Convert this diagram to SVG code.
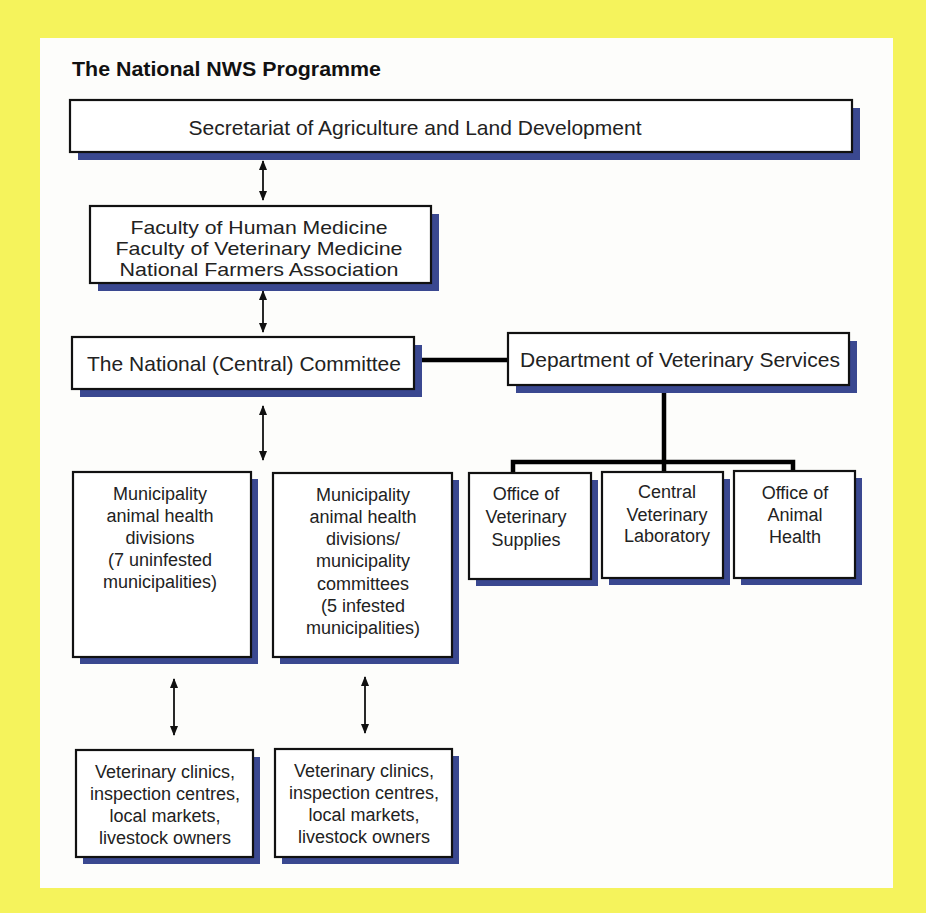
<svg xmlns="http://www.w3.org/2000/svg" width="926" height="913" viewBox="0 0 926 913">
<defs>
<marker id="ah" viewBox="0 0 10 8" refX="9" refY="4" markerWidth="10" markerHeight="8" markerUnits="userSpaceOnUse" orient="auto-start-reverse">
<path d="M0,0 L10,4 L0,8 z" fill="#111"/>
</marker>
<style>
.sh{fill:#3a4890}
.bx{fill:#fff;stroke:#111;stroke-width:2.2}
.t{font-family:"Liberation Sans",Arial,sans-serif;fill:#222;text-anchor:middle}
.big{font-size:21px}
.fac{font-size:18.5px}
.sm{font-size:18px}
.arr{stroke:#111;stroke-width:1.8;fill:none;marker-start:url(#ah);marker-end:url(#ah)}
.thick{stroke:#000;stroke-width:4.5;fill:none}
</style>
</defs>
<rect x="0" y="0" width="926" height="913" fill="#f5f35c"/>
<rect x="40" y="38" width="853" height="850" fill="#fdfdfb"/>
<text x="72" y="76" font-family="Liberation Sans,Arial,sans-serif" font-weight="bold" font-size="20" fill="#111" textLength="309" lengthAdjust="spacingAndGlyphs">The National NWS Programme</text>

<g id="connectors">
<line class="arr" x1="263" y1="161" x2="263" y2="200"/>
<line class="arr" x1="263" y1="291" x2="263" y2="332"/>
<line class="arr" x1="263" y1="406" x2="263" y2="460"/>
<line class="arr" x1="174" y1="679" x2="174" y2="735"/>
<line class="arr" x1="365" y1="677" x2="365" y2="733"/>
<line class="thick" x1="414" y1="360" x2="508" y2="360"/>
<path class="thick" d="M664,385 V462 M513,473 V462 H793 V473 M664,462 V472"/>
</g>

<g id="secretariat">
<rect class="sh" x="78" y="108" width="782" height="52"/>
<rect class="bx" x="70" y="100" width="782" height="52"/>
<text class="t big" x="415" y="135">Secretariat of Agriculture and Land Development</text>
</g>

<g id="faculties">
<rect class="sh" x="98" y="214" width="341" height="77"/>
<rect class="bx" x="90" y="206" width="341" height="77"/>
<text class="t fac" x="259" y="234" textLength="257" lengthAdjust="spacingAndGlyphs">Faculty of Human Medicine</text>
<text class="t fac" x="259" y="255" textLength="287" lengthAdjust="spacingAndGlyphs">Faculty of Veterinary Medicine</text>
<text class="t fac" x="259" y="276" textLength="279" lengthAdjust="spacingAndGlyphs">National Farmers Association</text>
</g>

<g id="national-committee">
<rect class="sh" x="80" y="345" width="342" height="52"/>
<rect class="bx" x="72" y="337" width="342" height="52"/>
<text class="t big" x="244" y="371">The National (Central) Committee</text>
</g>

<g id="dvs">
<rect class="sh" x="516" y="341" width="341" height="52"/>
<rect class="bx" x="508" y="333" width="341" height="52"/>
<text class="t big" x="680" y="367">Department of Veterinary Services</text>
</g>

<g id="office-supplies">
<rect class="sh" x="476" y="480" width="122" height="106"/>
<rect class="bx" x="469" y="473" width="122" height="106"/>
<text class="t sm" x="526" y="500">Office of</text>
<text class="t sm" x="526" y="523">Veterinary</text>
<text class="t sm" x="526" y="546">Supplies</text>
</g>

<g id="central-lab">
<rect class="sh" x="609" y="479" width="121" height="106"/>
<rect class="bx" x="602" y="472" width="121" height="106"/>
<text class="t sm" x="667" y="498">Central</text>
<text class="t sm" x="667" y="521">Veterinary</text>
<text class="t sm" x="667" y="542">Laboratory</text>
</g>

<g id="office-animal-health">
<rect class="sh" x="741" y="478" width="121" height="107"/>
<rect class="bx" x="734" y="471" width="121" height="107"/>
<text class="t sm" x="795" y="499">Office of</text>
<text class="t sm" x="795" y="521">Animal</text>
<text class="t sm" x="795" y="543">Health</text>
</g>

<g id="municipality-uninfested">
<rect class="sh" x="80" y="479" width="178" height="185"/>
<rect class="bx" x="73" y="472" width="178" height="185"/>
<text class="t sm" x="160" y="500">Municipality</text>
<text class="t sm" x="160" y="522">animal health</text>
<text class="t sm" x="160" y="544">divisions</text>
<text class="t sm" x="160" y="566">(7 uninfested</text>
<text class="t sm" x="160" y="588">municipalities)</text>
</g>

<g id="municipality-infested">
<rect class="sh" x="280" y="480" width="179" height="184"/>
<rect class="bx" x="273" y="473" width="179" height="184"/>
<text class="t sm" x="363" y="501">Municipality</text>
<text class="t sm" x="363" y="523">animal health</text>
<text class="t sm" x="363" y="545">divisions/</text>
<text class="t sm" x="363" y="567">municipality</text>
<text class="t sm" x="363" y="590">committees</text>
<text class="t sm" x="363" y="612">(5 infested</text>
<text class="t sm" x="363" y="634">municipalities)</text>
</g>

<g id="clinics-1">
<rect class="sh" x="83" y="757" width="177" height="107"/>
<rect class="bx" x="76" y="750" width="177" height="107"/>
<text class="t sm" x="165" y="778">Veterinary clinics,</text>
<text class="t sm" x="165" y="800">inspection centres,</text>
<text class="t sm" x="165" y="822">local markets,</text>
<text class="t sm" x="165" y="844">livestock owners</text>
</g>

<g id="clinics-2">
<rect class="sh" x="282" y="756" width="177" height="108"/>
<rect class="bx" x="275" y="749" width="177" height="108"/>
<text class="t sm" x="364" y="777">Veterinary clinics,</text>
<text class="t sm" x="364" y="799">inspection centres,</text>
<text class="t sm" x="364" y="821">local markets,</text>
<text class="t sm" x="364" y="843">livestock owners</text>
</g>
</svg>
